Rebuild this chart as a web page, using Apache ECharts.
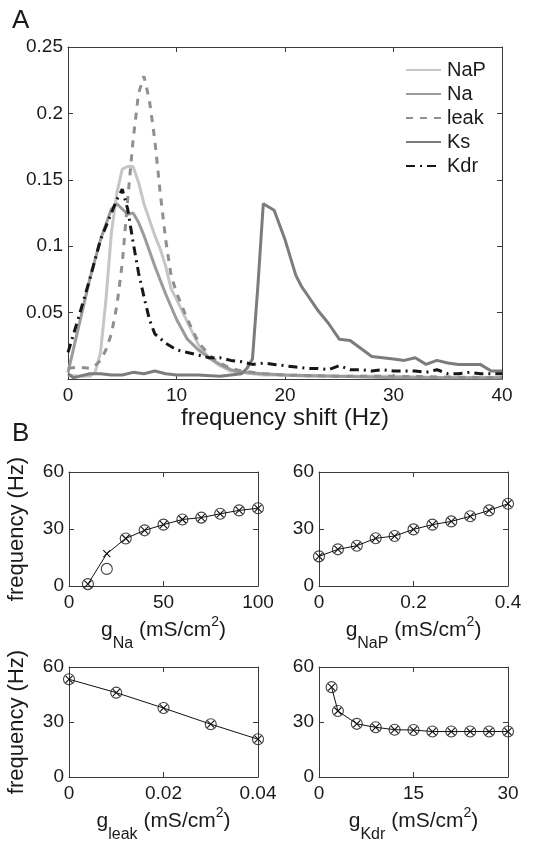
<!DOCTYPE html>
<html>
<head>
<meta charset="utf-8">
<script src="https://cdn.jsdelivr.net/npm/echarts@6/dist/echarts.min.js"></script>
<style>html,body{margin:0;padding:0;background:#fff}#c{width:536px;height:844px}</style>
</head>
<body>
<div id="c"></div>
<script>
// ---------- Panel A data ----------
const napX = [0,1,2,2.5,3,3.5,4,4.5,5,5.5,6,6.5,7,7.5,8,8.5,9,9.5,10,11,12,13,14,15,16,17,18,20,22,25,30,35,40];
const napY = [0.003,0.002,0.002,0.005,0.02,0.06,0.11,0.14,0.158,0.16,0.16,0.148,0.132,0.12,0.108,0.098,0.085,0.068,0.06,0.043,0.026,0.016,0.01,0.006,0.005,0.004,0.003,0.003,0.002,0.002,0.002,0.001,0.001];
const naX = [0,1,2,3,4,4.5,5,5.5,6,6.5,7,8,9,10,11,12,13,14,15,16,18,20,25,30,40];
const naY = [0.005,0.04,0.075,0.105,0.128,0.132,0.128,0.124,0.125,0.118,0.108,0.085,0.064,0.045,0.03,0.022,0.016,0.011,0.007,0.005,0.004,0.003,0.002,0.001,0.001];
const leakX = [0,1,2,2.5,3,3.5,4,4.5,5,5.5,6,6.5,7,7.5,8,8.5,9,9.5,10,11,12,13,14,15,16,18,20,25,30,40];
const leakY = [0.008,0.009,0.008,0.01,0.014,0.022,0.034,0.055,0.087,0.135,0.18,0.215,0.228,0.21,0.18,0.14,0.105,0.078,0.065,0.045,0.028,0.018,0.012,0.008,0.006,0.004,0.003,0.002,0.002,0.001];
const ksX = [0,0.5,1,2,3,4,5,6,7,8,9,10,12,14,15,16,16.5,17,17.5,18,19,20,21,21.5,22,23,24,25,26,27,28,29,30,31,32,33,34,35,36,37,38,39,40];
const ksY = [0.004,0.001,0.002,0.004,0.004,0.003,0.003,0.005,0.004,0.006,0.004,0.003,0.003,0.002,0.003,0.004,0.008,0.015,0.07,0.132,0.127,0.105,0.078,0.07,0.064,0.052,0.042,0.03,0.029,0.023,0.017,0.016,0.015,0.014,0.016,0.011,0.014,0.012,0.011,0.011,0.011,0.006,0.006];
const kdrX = [0,1,2,3,4,4.5,5,5.5,6,6.5,7,7.5,8,9,10,11,12,13,14,15,16,17,18,19,20,21,22,23,24,25,26,27,28,29,30,32,33,34,35,36,37,38,40];
const kdrY = [0.02,0.047,0.075,0.105,0.125,0.135,0.143,0.128,0.103,0.08,0.062,0.045,0.034,0.027,0.022,0.02,0.018,0.016,0.016,0.014,0.013,0.011,0.012,0.011,0.01,0.009,0.008,0.008,0.007,0.01,0.007,0.007,0.006,0.007,0.006,0.006,0.005,0.007,0.004,0.004,0.005,0.004,0.004];
const seriesNames = ['NaP','Na','leak','Ks','Kdr'];
const xTicksA = [0,10,20,30,40];
const yTicksA = [0.05,0.1,0.15,0.2,0.25];

// ---------- Panel B data ----------
const gNaX = [10,20,30,40,50,60,70,80,90,100];
const gNaCross = [1,17,25,29.3,32.3,35,36,38,39.8,40.9];
const gNaCircle = [1,9,25,29.3,32.3,35,36,38,39.8,40.9];
const gNaPX = [0,0.04,0.08,0.12,0.16,0.2,0.24,0.28,0.32,0.36,0.4];
const gNaPCross = [15.6,19.3,21.2,25.1,26.3,29.8,32.3,34,36.7,39.8,43.3];
const gNaPCircle = [15.6,19.3,21.2,25.1,26.3,29.8,32.3,34,36.7,39.8,43.3];
const gLeakX = [0,0.01,0.02,0.03,0.04];
const gLeakCross = [53.3,46,37.6,28.8,20.6];
const gLeakCircle = [53.3,46,37.6,28.8,20.6];
const gKdrX = [2,3,6,9,12,15,18,21,24,27,30];
const gKdrCross = [49,36,29,27.1,25.8,25.6,24.8,24.8,24.8,24.8,24.8];
const gKdrCircle = [49,36,29,27.1,25.8,25.6,24.8,24.8,24.8,24.8,24.8];
const freqTicks = [0,30,60];

const FONT = 'Liberation Sans, Arial, sans-serif';
const AX = '#3a3a3a';
const TXT = '#1a1a1a';
const zip = (xs, ys) => xs.map((x, i) => [x, ys[i]]);

const chart = echarts.init(document.getElementById('c'), null, {renderer: 'canvas'});

const grids = [
  {left: 68, top: 47, width: 434, height: 332},
  {left: 69, top: 472, width: 189, height: 114},
  {left: 319, top: 472, width: 189, height: 114},
  {left: 69, top: 667, width: 189, height: 114},
  {left: 319, top: 667, width: 189, height: 114}
];

const xAxes = [], yAxes = [];
function addAxes(g, xmin, xmax, xint, ymin, ymax, yint, xName, yName, yFmt, xNameGap) {
  const common = {
    axisLine: {show: true, onZero: false, lineStyle: {color: AX, width: 1}},
    axisTick: {show: true, inside: true, length: 5, lineStyle: {color: AX}},
    splitLine: {show: false}
  };
  xAxes.push(Object.assign({}, common, {
    type: 'value', gridIndex: g, min: xmin, max: xmax, interval: xint, position: 'bottom',
    axisLabel: {show: true, fontFamily: FONT, fontSize: 19, color: TXT, margin: 7},
    name: xName, nameLocation: 'middle', nameGap: xNameGap,
    nameTextStyle: g === 0 ? {fontFamily: FONT, fontSize: 24, color: TXT} : {
      fontFamily: FONT, fontSize: 21, color: TXT,
      rich: {
        m: {fontFamily: FONT, fontSize: 21, color: TXT, lineHeight: 44, verticalAlign: 'middle'},
        sub: {fontFamily: FONT, fontSize: 16, color: TXT, lineHeight: 16, verticalAlign: 'bottom'},
        sup: {fontFamily: FONT, fontSize: 14, color: TXT, lineHeight: 14, padding: [0, 0, 16, 0], verticalAlign: 'middle'}
      }
    }
  }));
  xAxes.push(Object.assign({}, common, {
    type: 'value', gridIndex: g, min: xmin, max: xmax, interval: xint, position: 'top',
    axisLabel: {show: false}
  }));
  yAxes.push(Object.assign({}, common, {
    type: 'value', gridIndex: g, min: ymin, max: ymax, interval: yint, position: 'left',
    axisLabel: {show: true, fontFamily: FONT, fontSize: 19, color: TXT, margin: 5, formatter: yFmt},
    name: yName, nameLocation: 'middle', nameGap: 41, nameRotate: 90,
    nameTextStyle: {fontFamily: FONT, fontSize: 22, color: TXT}
  }));
  yAxes.push(Object.assign({}, common, {
    type: 'value', gridIndex: g, min: ymin, max: ymax, interval: yint, position: 'right',
    axisLabel: {show: false}
  }));
}

addAxes(0, xTicksA[0], xTicksA[xTicksA.length-1], 10, 0, yTicksA[yTicksA.length-1], 0.05,
  'frequency shift (Hz)', '', v => (v === 0 ? '' : String(+v.toFixed(2))), 26);
const bName = s => '{m|g}{sub|' + s + '}{m| (mS/cm}{sup|2}{m|)}';
const fmtF = v => String(v);
addAxes(1, 0, 100, 50, freqTicks[0], freqTicks[2], 30, bName('Na'), 'frequency (Hz)', fmtF, 22);
addAxes(2, 0, 0.4, 0.2, freqTicks[0], freqTicks[2], 30, bName('NaP'), '', fmtF, 22);
addAxes(3, 0, 0.04, 0.02, freqTicks[0], freqTicks[2], 30, bName('leak'), 'frequency (Hz)', fmtF, 22);
addAxes(4, 0, 30, 15, freqTicks[0], freqTicks[2], 30, bName('Kdr'), '', fmtF, 22);

const series = [];
const aData = [[napX, napY], [naX, naY], [leakX, leakY], [ksX, ksY], [kdrX, kdrY]];
const aStyle = [
  {color: '#c6c6c6', width: 3, type: 'solid'},
  {color: '#9b9b9b', width: 3, type: 'solid'},
  {color: '#8f8f8f', width: 3, type: [7, 7]},
  {color: '#7c7c7c', width: 3, type: 'solid'},
  {color: '#161616', width: 3, type: [9, 5, 2, 5]}
];
aData.forEach((d, i) => {
  series.push({
    type: 'line', name: seriesNames[i], xAxisIndex: 0, yAxisIndex: 0,
    data: zip(d[0], d[1]), symbol: 'none', showSymbol: false,
    lineStyle: aStyle[i], itemStyle: {color: aStyle[i].color}, animation: false, z: i === 4 ? 6 : 3
  });
});

const CROSS = 'path://M0,0L10,10M0,10L10,0';
const bData = [[gNaX, gNaCross, gNaCircle], [gNaPX, gNaPCross, gNaPCircle], [gLeakX, gLeakCross, gLeakCircle], [gKdrX, gKdrCross, gKdrCircle]];
bData.forEach((d, i) => {
  const ax = (i + 1) * 2;
  series.push({
    type: 'line', xAxisIndex: ax, yAxisIndex: ax, data: zip(d[0], d[1]),
    symbol: CROSS, symbolSize: 7, showSymbol: true, clip: false,
    lineStyle: {color: '#111', width: 1},
    itemStyle: {color: 'none', borderColor: '#111', borderWidth: 1.1},
    animation: false
  });
  series.push({
    type: 'scatter', xAxisIndex: ax, yAxisIndex: ax, data: zip(d[0], d[2]),
    symbol: 'circle', symbolSize: 11, clip: false,
    itemStyle: {color: 'none', borderColor: '#111', borderWidth: 1.1},
    animation: false
  });
});

chart.setOption({
  backgroundColor: '#fff',
  animation: false,
  grid: grids.map(g => Object.assign({show: false, containLabel: false}, g)),
  xAxis: xAxes,
  yAxis: yAxes,
  legend: {
    data: seriesNames, orient: 'vertical', left: 400, top: 55,
    itemWidth: 35, itemHeight: 14, itemGap: 4,
    itemStyle: {opacity: 0},
    textStyle: {fontFamily: FONT, fontSize: 20, color: TXT, lineHeight: 19, padding: [0, 0, 0, 1]},
    selectedMode: false
  },
  graphic: [
    {type: 'text', left: 12, top: 8, style: {text: 'A', font: '26px ' + FONT, fill: TXT}},
    {type: 'text', left: 12, top: 421, style: {text: 'B', font: '26px ' + FONT, fill: TXT}}
  ],
  series: series
});
</script>
</body>
</html>
